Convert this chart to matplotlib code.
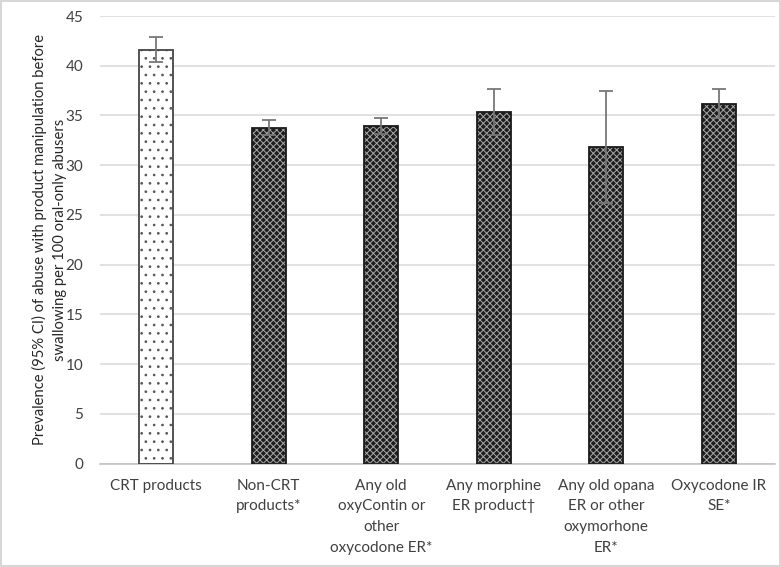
import matplotlib
matplotlib.use("Agg")
import matplotlib.pyplot as plt
from matplotlib.patches import Rectangle

categories = ["CRT products", "Non-CRT\nproducts*", "Any old\noxyContin or\nother\noxycodone ER*",
              "Any morphine\nER product\u2020", "Any old opana\nER or other\noxymorhone\nER*", "Oxycodone IR\nSE*"]
values = [41.6, 33.75, 33.9, 35.35, 31.8, 36.2]
errors = [1.25, 0.75, 0.8, 2.35, 5.65, 1.5]
yticks = [0, 5, 10, 15, 20, 25, 30, 35, 40, 45]

plt.rcParams['font.family'] = ['Lato', 'DejaVu Sans']
fig = plt.figure(figsize=(7.81, 5.67), dpi=100)
ax = fig.add_axes([100/781, 1-463.5/567, 675/781, (463.5-16)/567])

x = list(range(len(categories)))
w = 0.305
face = ['white'] + ['#1e1e1e'] * 5
hatches = ['..'] + ['xxxxx'] * 5
hcolors = ['#555555'] + ['#a8a8a8'] * 5
hlw = [0.7] + [0.7] * 5
for i in x:
    plt.rcParams['hatch.linewidth'] = hlw[i]
    ax.bar(i, values[i], width=w, color=face[i], hatch=hatches[i], edgecolor=hcolors[i], linewidth=0, zorder=2)
ax.bar(x, values, width=w, fill=False, edgecolor=['#444444'] + ['#1a1a1a'] * 5, linewidth=1.3, zorder=3)
ax.errorbar(x, values, yerr=errors, fmt='none', ecolor='#777777', elinewidth=1.3, capsize=5, capthick=1.3, zorder=4)

ax.set_xlim(-0.5, 5.5)
ax.set_ylim(0, 45)
ax.set_yticks(yticks)
ax.set_xticks(x)
ax.set_xticklabels(categories, fontsize=11, color='#262626', linespacing=1.6)
ax.tick_params(axis='both', length=0, labelsize=11, colors='#404040')
ax.tick_params(axis='x', pad=11)
ax.tick_params(axis='y', pad=12)
ax.grid(axis='y', color='#d9d9d9', linewidth=1.1, zorder=0)
ax.set_axisbelow(True)
for s in ['top', 'right', 'left']:
    ax.spines[s].set_visible(False)
ax.spines['bottom'].set_color('#bfbfbf')
ax.spines['bottom'].set_linewidth(1.1)
ax.set_ylabel("Prevalence (95% CI) of abuse with product manipulation before\nswallowing per 100 oral-only abusers",
              fontsize=10.6, color='#262626', linespacing=1.55)
ax.yaxis.set_label_coords(-0.049, 0.5)

fig.patches.append(Rectangle((0.001, 0.001), 0.998, 0.997, transform=fig.transFigure,
                             fill=False, edgecolor='#d0d0d0', linewidth=1.2))
fig.savefig("out.png", dpi=100)
